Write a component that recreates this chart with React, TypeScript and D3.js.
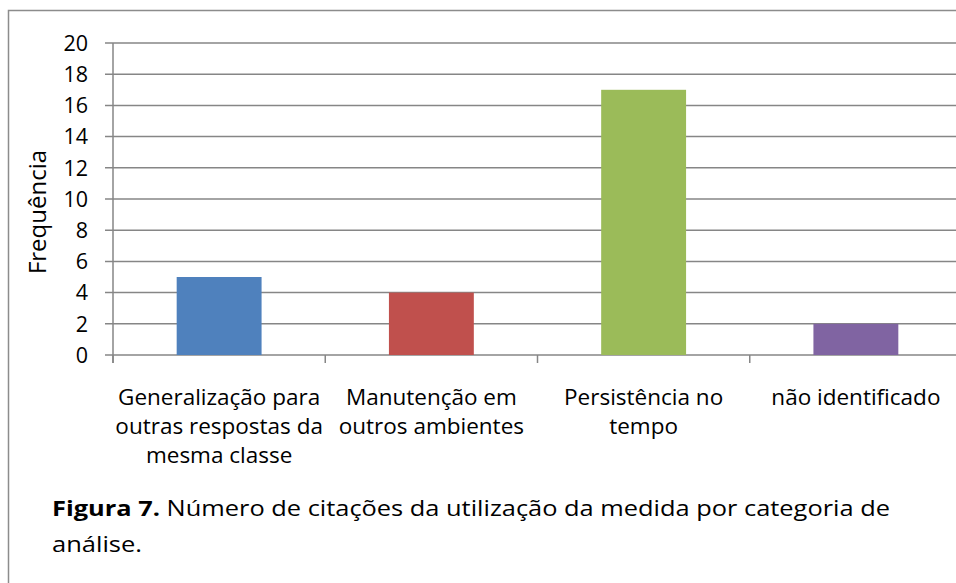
import React from "react";
import * as d3 from "d3";

const categories: string[][] = [
  ["Generalização para", "outras respostas da", "mesma classe"],
  ["Manutenção em", "outros ambientes"],
  ["Persistência no", "tempo"],
  ["não identificado"],
];
const values: number[] = [5, 4, 17, 2];
const colors: string[] = ["#4F81BD", "#C0504D", "#9BBB59", "#8064A2"];
const yTicks: number[] = [0, 2, 4, 6, 8, 10, 12, 14, 16, 18, 20];
const yLabel = "Frequência";

const W = 956, H = 583;
const FONT = "'Open Sans', sans-serif";

export default function App() {
  const left = 113, right = 962, top = 43, bottom = 355;
  const x = d3.scaleBand<number>().domain(d3.range(values.length)).range([left, right]).paddingInner(0.6).paddingOuter(0.3);
  const xb = d3.scaleBand<number>().domain(d3.range(values.length)).range([left, right]);
  const y = d3.scaleLinear().domain([0, 20]).range([bottom, top]);
  const grid = "#868686";
  return (
    <svg width={W} height={H} style={{ position: "absolute", left: 0, top: 0, background: "#fff" }}>
      <rect x={8.5} y={10.5} width={1000} height={700} fill="#fff" stroke="#8c8c8c" strokeWidth={1.5} />
      {yTicks.map((t) => (
        <g key={t}>
          <line x1={left - 8} x2={right} y1={y(t)} y2={y(t)} stroke={grid} strokeWidth={1.5} />
          <text x={88} y={y(t)} dy="0.36em" textAnchor="end" fontFamily={FONT} fontSize={21.5} fill="#000">{t}</text>
        </g>
      ))}
      <line x1={left} x2={left} y1={top} y2={bottom + 8} stroke={grid} strokeWidth={1.5} />
      {d3.range(values.length + 1).map((i) => {
        const xx = i < values.length ? (xb(i) as number) : right;
        return <line key={i} x1={xx} x2={xx} y1={bottom} y2={bottom + 8} stroke={grid} strokeWidth={1.5} />;
      })}
      {values.map((v, i) => (
        <rect key={i} x={x(i)} y={y(v)} width={x.bandwidth()} height={bottom - y(v)} fill={colors[i]} />
      ))}
      {categories.map((lines, i) => (
        <text key={i} x={(xb(i) as number) + xb.bandwidth() / 2} y={405} textAnchor="middle" fontFamily={FONT} fontSize={22.5} fill="#000">
          {lines.map((l, j) => (
            <tspan key={j} x={(xb(i) as number) + xb.bandwidth() / 2} dy={j === 0 ? 0 : 29}>{l}</tspan>
          ))}
        </text>
      ))}
      <text transform={`translate(46,212) rotate(-90)`} textAnchor="middle" fontFamily={FONT} fontSize={24} fill="#000">{yLabel}</text>
      <text x={52} y={516} fontFamily={FONT} fontSize={22} fill="#000" textLength={838} lengthAdjust="spacingAndGlyphs">
        <tspan fontWeight="bold">Figura 7.</tspan>
        <tspan> Número de citações da utilização da medida por categoria de</tspan>
      </text>
      <text x={52} y={552} fontFamily={FONT} fontSize={22} fill="#000" textLength={90} lengthAdjust="spacingAndGlyphs">análise.</text>
    </svg>
  );
}
